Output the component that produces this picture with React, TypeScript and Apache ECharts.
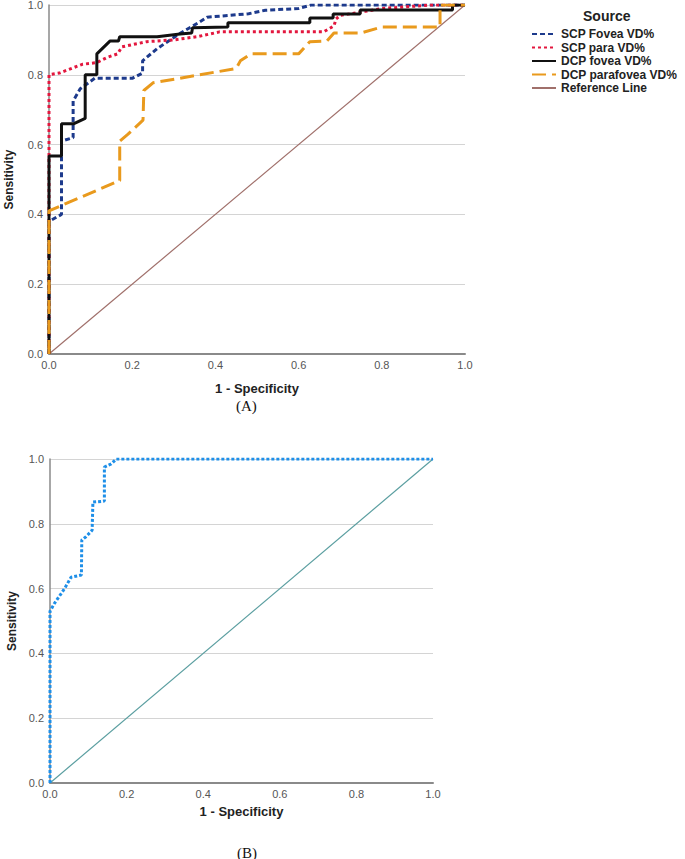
import React, { useEffect, useRef } from "react";
import * as echarts from "echarts";

// Panel A: ROC curves, [1 - specificity, sensitivity]
const scpFovea: number[][] = [
  [0, 0], [0, 0.38], [0.03, 0.4], [0.03, 0.61], [0.058, 0.62], [0.058, 0.725],
  [0.075, 0.76], [0.11, 0.79], [0.2, 0.79], [0.225, 0.805], [0.225, 0.84],
  [0.26, 0.875], [0.31, 0.915], [0.36, 0.95], [0.38, 0.965], [0.48, 0.975],
  [0.52, 0.985], [0.6, 0.99], [0.63, 1.0], [1, 1],
];
const scpPara: number[][] = [
  [0, 0], [0, 0.8], [0.025, 0.805], [0.08, 0.83], [0.115, 0.835], [0.14, 0.85],
  [0.165, 0.86], [0.175, 0.88], [0.235, 0.895], [0.3, 0.9], [0.36, 0.91],
  [0.41, 0.923], [0.66, 0.923], [0.685, 0.94], [0.69, 0.96], [0.7, 0.97],
  [0.76, 0.982], [0.8, 0.99], [0.92, 1.0], [1, 1],
];
const dcpFovea: number[][] = [
  [0, 0], [0, 0.567], [0.03, 0.567], [0.03, 0.66], [0.06, 0.66], [0.087, 0.675],
  [0.087, 0.8], [0.115, 0.8], [0.115, 0.86], [0.147, 0.897], [0.167, 0.897],
  [0.17, 0.909], [0.26, 0.909], [0.315, 0.917], [0.343, 0.92], [0.345, 0.935],
  [0.43, 0.937], [0.43, 0.949], [0.627, 0.949], [0.627, 0.963], [0.683, 0.963],
  [0.683, 0.974], [0.748, 0.974], [0.748, 0.986], [0.97, 0.986], [0.97, 1], [1, 1],
];
const dcpParafovea: number[][] = [
  [0, 0], [0, 0.41], [0.17, 0.497], [0.17, 0.61], [0.19, 0.63], [0.226, 0.67],
  [0.228, 0.755], [0.25, 0.777], [0.45, 0.818], [0.46, 0.84], [0.485, 0.86],
  [0.6, 0.86], [0.627, 0.895], [0.668, 0.897], [0.685, 0.92], [0.75, 0.92],
  [0.8, 0.937], [0.94, 0.937], [0.94, 1.0], [1, 1],
];
const referenceLine: number[][] = [[0, 0], [1, 1]];

// Panel B
const rocB: number[][] = [
  [0, 0], [0, 0.53], [0.012, 0.555], [0.038, 0.6], [0.055, 0.635], [0.082, 0.642],
  [0.083, 0.75], [0.094, 0.76], [0.11, 0.78], [0.112, 0.867], [0.142, 0.87],
  [0.142, 0.975], [0.16, 0.985], [0.173, 1], [1, 1],
];
const referenceLineB: number[][] = [[0, 0], [1, 1]];

const legendNames = [
  "SCP Fovea VD%",
  "SCP para VD%",
  "DCP fovea VD%",
  "DCP parafovea VD%",
  "Reference Line",
];

const FONT = "'Liberation Sans', Arial, sans-serif";

function axisCommon(name: string, isX: boolean, gridIndex: number, gap: number) {
  return {
    type: "value",
    gridIndex,
    min: 0,
    max: 1,
    interval: 0.2,
    name,
    nameLocation: "middle",
    nameGap: gap,
    nameTextStyle: { fontFamily: FONT, fontWeight: "bold", fontSize: isX ? 13 : 12, color: "#222" },
    axisLine: { show: true, onZero: false, lineStyle: { color: "#8a8a8a", width: isX ? 2 : 1.5 } },
    axisTick: { show: false },
    axisLabel: {
      fontFamily: FONT,
      fontSize: 11,
      lineHeight: 10,
      color: "#555",
      margin: 6,
      formatter: (v: number) => v.toFixed(1),
    },
    splitLine: { show: !isX, lineStyle: { color: "#d4d4d4", width: 1 } },
  };
}

export default function App() {
  const ref = useRef<HTMLDivElement>(null);
  useEffect(() => {
    if (!ref.current) return;
    const chart = echarts.init(ref.current, undefined, { renderer: "svg" });
    const lineSeries = (
      name: string,
      data: number[][],
      color: string,
      width: number,
      type: any,
      idx: number
    ) => ({
      name,
      type: "line",
      data,
      xAxisIndex: idx,
      yAxisIndex: idx,
      showSymbol: false,
      symbol: "none",
      lineStyle: { color, width, type },
      itemStyle: { color },
      emphasis: { disabled: true },
    });
    chart.setOption({
      animation: false,
      textStyle: { fontFamily: FONT },
      title: {
        text: "Source",
        left: 578,
        top: 4,
        textStyle: { fontFamily: FONT, fontWeight: "bold", fontSize: 14, color: "#222" },
      },
      legend: {
        data: legendNames,
        orient: "vertical",
        left: 526,
        top: 23,
        itemWidth: 24,
        itemHeight: 10,
        itemGap: 1.5,
        selectedMode: false,
        itemStyle: { opacity: 0 },
        textStyle: { fontFamily: FONT, fontWeight: "bold", fontSize: 12, color: "#222" },
      },
      grid: [
        { left: 49, top: 5, width: 416, height: 349, outerBoundsMode: "none", containLabel: false },
        { left: 50, top: 459, width: 383, height: 324, outerBoundsMode: "none", containLabel: false },
      ],
      xAxis: [axisCommon("1 - Specificity", true, 0, 28), axisCommon("1 - Specificity", true, 1, 22)],
      yAxis: [axisCommon("Sensitivity", false, 0, 34), axisCommon("Sensitivity", false, 1, 32)],
      series: [
        lineSeries("Reference Line", referenceLine, "#a0706b", 1.2, "solid", 0),
        lineSeries("SCP Fovea VD%", scpFovea, "#1d3a8c", 3, [5, 3], 0),
        lineSeries("SCP para VD%", scpPara, "#e3173e", 3, [3, 3], 0),
        lineSeries("DCP fovea VD%", dcpFovea, "#111111", 3, "solid", 0),
        lineSeries("DCP parafovea VD%", dcpParafovea, "#e99a1d", 3, [14, 6], 0),
        lineSeries("Panel B Reference", referenceLineB, "#5a9ea0", 1.2, "solid", 1),
        lineSeries("Panel B ROC", rocB, "#1e8fe8", 3, [3, 2], 1),
      ],
      graphic: [
        {
          type: "text",
          left: 236,
          top: 398,
          style: { text: "(A)", font: "15px 'Liberation Serif', 'Times New Roman', serif", fill: "#111" },
        },
        {
          type: "text",
          left: 237,
          top: 845,
          style: { text: "(B)", font: "15px 'Liberation Serif', 'Times New Roman', serif", fill: "#111" },
        },
      ],
    });
    return () => chart.dispose();
  }, []);
  return (
    <div
      ref={ref}
      style={{ position: "absolute", left: 0, top: 0, width: 685, height: 859, background: "#fff" }}
    />
  );
}
